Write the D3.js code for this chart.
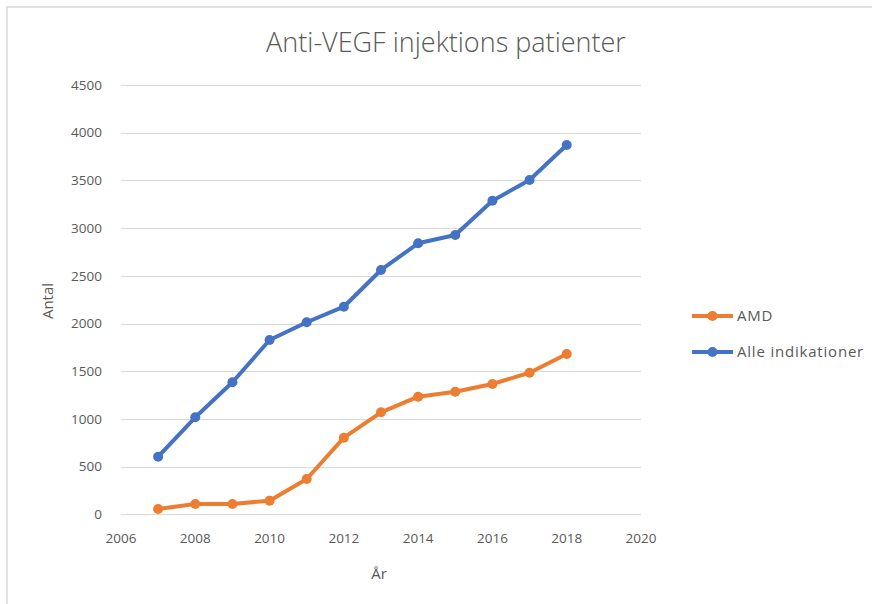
<html>
<script src='https://d3js.org/d3.v7.min.js'></script>
<style>
body {margin:0; background:#fff;}
text {font-family: "Open Sans", sans-serif; fill:#595959;}
</style>
<body>
<svg width=872 height=604></svg>
<script>
var years = [2007,2008,2009,2010,2011,2012,2013,2014,2015,2016,2017,2018];
var amd = [56,108,108,143,370,803,1069,1233,1285,1366,1484,1680];
var alle = [604,1017,1384,1827,2013,2176,2561,2841,2928,3287,3504,3871];
var seriesNames = ["AMD","Alle indikationer"];
var seriesColors = ["#ED7D31","#4472C4"];
var xTicks = [2006,2008,2010,2012,2014,2016,2018,2020];
var yTicks = [0,500,1000,1500,2000,2500,3000,3500,4000,4500];

var svg = d3.select("svg");

// chart frame (only top and left edges show)
svg.append("path").attr("d","M7,604 V7 H872").attr("fill","none").attr("stroke","#d9d9d9").attr("stroke-width",1.5);

var x = d3.scaleLinear().domain([2006,2020]).range([121,641]);
var y = d3.scaleLinear().domain([0,4500]).range([514.3,85]);

svg.append("g").selectAll("line").data(yTicks).enter().append("line")
	.attr("x1",121).attr("x2",641)
	.attr("y1",d=>Math.round(y(d))+0.5).attr("y2",d=>Math.round(y(d))+0.5)
	.attr("stroke","#d9d9d9").attr("stroke-width",1);

svg.append("g").selectAll("text").data(yTicks).enter().append("text")
	.attr("x",102).attr("y",d=>y(d)).attr("dy","0.35em")
	.attr("text-anchor","end").style("font-size","13.5px").text(d=>d);

svg.append("g").selectAll("text").data(xTicks).enter().append("text")
	.attr("x",d=>x(d)).attr("y",538).attr("dy","0.35em")
	.attr("text-anchor","middle").style("font-size","13.5px").text(d=>d);

svg.append("text").attr("x",446).attr("y",43).attr("dy","0.35em").attr("text-anchor","middle")
	.style("font-size","27px").style("font-weight",300).text("Anti-VEGF injektions patienter");

svg.append("text").attr("transform","translate(48,301) rotate(-90)").attr("dy","0.35em")
	.attr("text-anchor","middle").style("font-size","15px").text("Antal");
svg.append("text").attr("x",379).attr("y",574).attr("dy","0.35em")
	.attr("text-anchor","middle").style("font-size","15px").text("År");

var series = [amd, alle];
var line = d3.line().x((d,i)=>x(years[i])).y(d=>y(d));
series.forEach(function(s,k){
	var g = svg.append("g");
	g.append("path").datum(s).attr("d",line).attr("fill","none")
		.attr("stroke",seriesColors[k]).attr("stroke-width",4).attr("stroke-linejoin","round");
	g.selectAll("circle").data(s).enter().append("circle")
		.attr("cx",(d,i)=>x(years[i])).attr("cy",d=>y(d)).attr("r",5)
		.attr("fill",seriesColors[k]);
});

// legend
var leg = svg.append("g").selectAll("g").data(seriesNames).enter().append("g")
	.attr("transform",(d,i)=>"translate(692,"+(316+i*36)+")");
leg.append("line").attr("x1",0).attr("x2",41).attr("stroke",(d,i)=>seriesColors[i]).attr("stroke-width",4);
leg.append("circle").attr("cx",20.5).attr("r",5).attr("fill",(d,i)=>seriesColors[i]);
leg.append("text").attr("x",45).attr("dy","0.35em").style("font-size","15px").style("letter-spacing","0.8px").text(d=>d);
</script>
</body>
</html>
